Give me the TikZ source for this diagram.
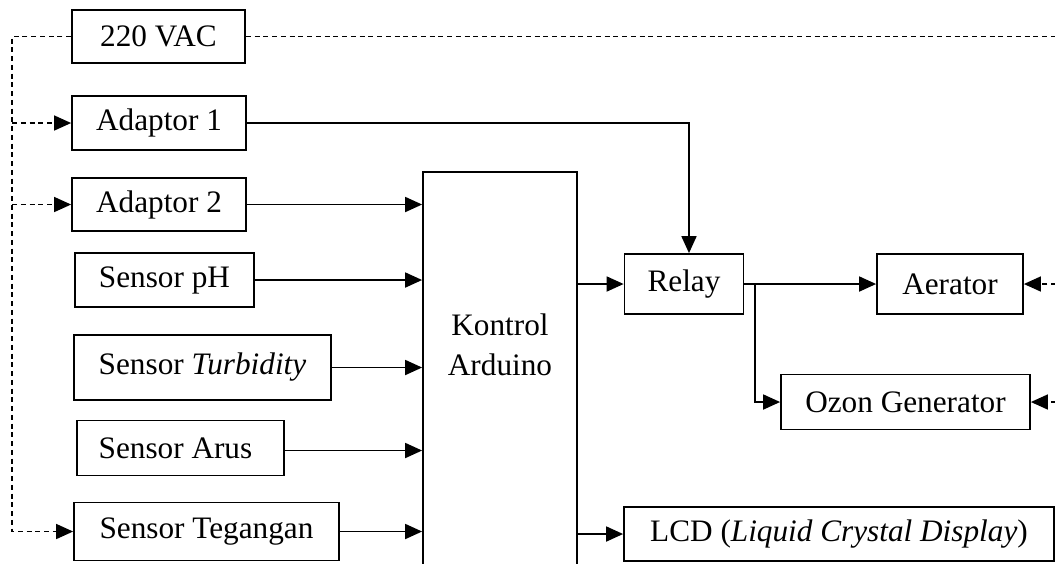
\documentclass[tikz,border=0pt]{standalone}
\usepackage{fontspec}
\setmainfont{Liberation Serif}
\usepackage{tikz}
\usetikzlibrary{arrows.meta,positioning,calc}

\begin{document}
\begin{tikzpicture}[
    x=0.4pt, y=-0.4pt,
    box/.style={draw, line width=0.7pt, inner sep=0pt, align=center, font=\fontsize{12.5}{16}\selectfont},
    arrow/.style={-{Triangle[length=6.8pt,width=6pt]}, line width=0.7pt},
    feed/.style={arrow, line width=0.6pt, dash pattern=on 2pt off 1.5pt},
    mains/.style={line width=0.6pt, dash pattern=on 2pt off 1.5pt}
  ]
    \useasboundingbox (0,0) rectangle (1055,563);

    % sumber dan sensor
    \node[box, minimum width=69.2pt, minimum height=21.2pt] (vac) at (158.5,36.5) {220 VAC};
    \node[box, minimum width=69.6pt, minimum height=21.6pt] (ad1) at (159,123) {Adaptor 1};
    \node[box, minimum width=69.6pt, minimum height=21.2pt] (ad2) at (159,204.5) {Adaptor 2};
    \node[box, minimum width=71.6pt, minimum height=21.6pt] (ph) at (164.5,280) {Sensor pH};
    \node[box, minimum width=102.8pt, minimum height=26pt] (turb) at (202.5,367.5) {Sensor \textit{Turbidity}};
    \node[box, minimum width=82.8pt, minimum height=22pt] (arus) at (180.5,448) {\hspace*{-4pt}Sensor Arus};
    \node[box, minimum width=106pt, minimum height=23.2pt] (teg) at (206.5,531.5) {Sensor Tegangan};

    % kontrol
    \node[box, minimum width=61.6pt, minimum height=160pt] (ard) at (500,372) {};
    \node[font=\fontsize{12.5}{16}\selectfont, align=center] (ardtxt) at (500,345) {Kontrol\\Arduino};

    % keluaran
    \node[box, minimum width=47.6pt, minimum height=24pt] (relay) at (684,284) {Relay};
    \node[box, minimum width=58.4pt, minimum height=24pt] (aer) at (950,284) {Aerator};
    \node[box, minimum width=99.6pt, minimum height=22pt] (ozon) at (905.5,402) {Ozon Generator};
    \node[box, minimum width=172pt, minimum height=21.6pt] (lcd) at (839,534) {LCD (\textit{Liquid Crystal Display})};

    \coordinate (tl) at (12,36.5);
    \coordinate (tr) at (1056,36.5);
    \coordinate (ra) at (1056,284);
    \coordinate (ro) at (1056,402);
    \coordinate (br) at (755,284);

    % jalur 220 VAC
    \draw[feed] (vac.west) -- (tl) |- (teg.west);
    \draw[feed] (tl |- ad1.west) -- (ad1.west);
    \draw[feed] (tl |- ad2.west) -- (ad2.west);
    \draw[mains] (vac.east) -- (tr);
    \draw[feed] (ra) -- (aer.east);
    \draw[feed] (ro) -- (ozon.east);

    % masukan arduino
    \draw[arrow] (ad2.east) -- (ad2.east -| ard.west);
    \draw[arrow] (ph.east) -- (ph.east -| ard.west);
    \draw[arrow] (turb.east) -- (turb.east -| ard.west);
    \draw[arrow] ([yshift=-1pt]arus.east) -- ([yshift=-1pt]arus.east -| ard.west);
    \draw[arrow] (teg.east) -- (teg.east -| ard.west);

    % keluaran arduino
    \draw[arrow] (ad1.east) -| ([xshift=2pt]relay.north);
    \draw[arrow] (ard.east |- relay.west) -- (relay.west);
    \draw[arrow] (ard.east |- lcd.west) -- (lcd.west);
    \draw[arrow] (relay.east) -- (aer.west);
    \draw[arrow] (br) |- (ozon.west);
  \end{tikzpicture}
\end{document}
